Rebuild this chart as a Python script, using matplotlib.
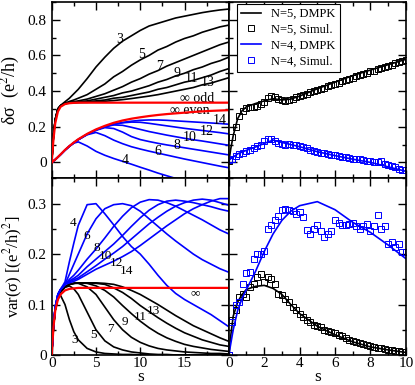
import matplotlib
matplotlib.use("Agg")
import matplotlib.pyplot as plt
import numpy as np
from matplotlib.ticker import MultipleLocator, FuncFormatter

plt.rcParams['font.family'] = ['Liberation Serif', 'DejaVu Serif']
plt.rcParams['mathtext.fontset'] = 'stix'

# ---- left panels: analytic / DMPK curves vs s ----
s_left = [0, 0.2, 0.4, 0.7, 1, 1.5, 2, 2.5, 3, 4, 5, 6, 7, 8, 9, 10,
          11, 12, 13, 14, 15, 16, 17, 18, 19, 20]

# delta sigma, odd N (black)
dsig_3 = [0, 0.15, 0.24, 0.3, 0.32, 0.34, 0.36, 0.385, 0.41, 0.47, 0.535, 0.59, 0.64,
          0.68, 0.71, 0.74, 0.765, 0.78, 0.795, 0.81, 0.82, 0.83, 0.84, 0.848, 0.855, 0.86]
dsig_5 = [0, 0.15, 0.24, 0.3, 0.318, 0.332, 0.342, 0.35, 0.36, 0.38, 0.41, 0.44, 0.48,
          0.51, 0.545, 0.575, 0.6, 0.63, 0.65, 0.675, 0.695, 0.71, 0.73, 0.745, 0.76, 0.77]
dsig_7 = [0, 0.15, 0.24, 0.3, 0.318, 0.33, 0.337, 0.341, 0.345, 0.355, 0.37, 0.385, 0.405,
          0.425, 0.45, 0.47, 0.495, 0.515, 0.54, 0.56, 0.58, 0.6, 0.62, 0.64, 0.66, 0.675]
dsig_9 = [0, 0.15, 0.24, 0.3, 0.318, 0.33, 0.335, 0.338, 0.34, 0.345, 0.355, 0.365, 0.375,
          0.39, 0.4, 0.415, 0.43, 0.45, 0.465, 0.485, 0.5, 0.52, 0.535, 0.555, 0.57, 0.59]
dsig_11 = [0, 0.15, 0.24, 0.3, 0.318, 0.33, 0.334, 0.336, 0.337, 0.34, 0.345, 0.35, 0.36,
           0.365, 0.375, 0.385, 0.395, 0.41, 0.42, 0.435, 0.45, 0.46, 0.475, 0.49, 0.51, 0.526]
dsig_13 = [0, 0.15, 0.24, 0.3, 0.318, 0.33, 0.334, 0.335, 0.336, 0.337, 0.34, 0.343, 0.347,
           0.352, 0.358, 0.365, 0.372, 0.38, 0.39, 0.4, 0.41, 0.42, 0.435, 0.445, 0.46, 0.475]

# delta sigma, even N (blue)
dsig_4 = [0, 0.007, 0.015, 0.029, 0.043, 0.068, 0.09, 0.108, 0.115, 0.092, 0.062, 0.04, 0.022,
          0.006, -0.01, -0.027, -0.043, -0.06, -0.075, -0.09, -0.105, -0.12, -0.135, -0.15, -0.165, -0.18]
dsig_6 = [0, 0.008, 0.016, 0.03, 0.044, 0.069, 0.09, 0.11, 0.127, 0.155, 0.168, 0.15, 0.125,
          0.105, 0.088, 0.075, 0.063, 0.052, 0.041, 0.03, 0.019, 0.009, -0.001, -0.011, -0.021, -0.03]
dsig_8 = [0, 0.008, 0.016, 0.03, 0.044, 0.069, 0.091, 0.11, 0.128, 0.157, 0.18, 0.195, 0.19,
          0.17, 0.145, 0.128, 0.117, 0.107, 0.098, 0.09, 0.082, 0.074, 0.066, 0.058, 0.05, 0.042]
dsig_10 = [0, 0.008, 0.016, 0.03, 0.044, 0.069, 0.091, 0.11, 0.128, 0.158, 0.182, 0.2, 0.21,
           0.208, 0.197, 0.185, 0.173, 0.163, 0.153, 0.144, 0.135, 0.127, 0.12, 0.112, 0.104, 0.096]
dsig_12 = [0, 0.008, 0.016, 0.03, 0.044, 0.069, 0.091, 0.11, 0.128, 0.158, 0.182, 0.2, 0.213,
           0.222, 0.226, 0.225, 0.219, 0.212, 0.205, 0.198, 0.191, 0.185, 0.179, 0.173, 0.167, 0.16]
dsig_14 = [0, 0.008, 0.016, 0.03, 0.044, 0.069, 0.091, 0.11, 0.128, 0.158, 0.182, 0.2, 0.214,
           0.224, 0.231, 0.236, 0.238, 0.238, 0.236, 0.233, 0.23, 0.227, 0.224, 0.221, 0.218, 0.214]

dsig_inf_odd = [0, 0.13, 0.22, 0.285, 0.312, 0.327, 0.332, 0.334, 0.335, 0.335, 0.335, 0.335, 0.335,
                0.335, 0.335, 0.335, 0.335, 0.335, 0.335, 0.335, 0.335, 0.335, 0.335, 0.335, 0.335, 0.335]
dsig_inf_even = [0, 0.008, 0.016, 0.03, 0.045, 0.07, 0.092, 0.112, 0.13, 0.16, 0.185, 0.205, 0.222,
                 0.235, 0.245, 0.253, 0.26, 0.266, 0.271, 0.275, 0.279, 0.283, 0.286, 0.289, 0.291, 0.293]

# variance, odd N (black)
var_3 = [0, 0.055, 0.09, 0.113, 0.118, 0.1, 0.07, 0.046, 0.03, 0.013, 0.006, 0.003, 0.002,
         0.001, 0.001, 0, 0, 0, 0, 0, 0, 0, 0, 0, 0, 0]
var_5 = [0, 0.055, 0.09, 0.115, 0.125, 0.134, 0.137, 0.131, 0.12, 0.085, 0.05, 0.028, 0.016,
         0.01, 0.006, 0.004, 0.002, 0.001, 0.001, 0, 0, 0, 0, 0, 0, 0]
var_7 = [0, 0.055, 0.09, 0.115, 0.125, 0.135, 0.14, 0.142, 0.142, 0.135, 0.12, 0.095, 0.07,
         0.05, 0.035, 0.025, 0.018, 0.013, 0.01, 0.008, 0.006, 0.005, 0.004, 0.003, 0.003, 0.002]
var_9 = [0, 0.055, 0.09, 0.115, 0.125, 0.135, 0.14, 0.142, 0.143, 0.142, 0.137, 0.128, 0.115,
         0.098, 0.082, 0.067, 0.054, 0.043, 0.034, 0.027, 0.021, 0.017, 0.014, 0.011, 0.009, 0.007]
var_11 = [0, 0.055, 0.09, 0.115, 0.125, 0.135, 0.14, 0.142, 0.143, 0.143, 0.142, 0.14, 0.133,
          0.124, 0.112, 0.098, 0.086, 0.074, 0.063, 0.053, 0.044, 0.037, 0.03, 0.025, 0.02, 0.017]
var_13 = [0, 0.055, 0.09, 0.115, 0.125, 0.135, 0.14, 0.142, 0.143, 0.143, 0.143, 0.142, 0.14,
          0.135, 0.128, 0.12, 0.11, 0.1, 0.089, 0.078, 0.068, 0.058, 0.05, 0.042, 0.034, 0.027]

# variance, even N (blue)
var_4 = [0, 0.06, 0.095, 0.12, 0.13, 0.145, 0.185, 0.222, 0.257, 0.298, 0.3, 0.28, 0.258,
         0.235, 0.215, 0.2, 0.18, 0.158, 0.138, 0.122, 0.11, 0.1, 0.09, 0.08, 0.068, 0.056]
var_6 = [0, 0.06, 0.095, 0.12, 0.13, 0.14, 0.16, 0.18, 0.2, 0.24, 0.27, 0.29, 0.298,
         0.3, 0.296, 0.285, 0.27, 0.255, 0.24, 0.226, 0.213, 0.2, 0.189, 0.18, 0.171, 0.164]
var_8 = [0, 0.06, 0.095, 0.12, 0.13, 0.14, 0.15, 0.158, 0.168, 0.19, 0.21, 0.232, 0.255,
         0.275, 0.292, 0.303, 0.308, 0.307, 0.302, 0.295, 0.286, 0.277, 0.268, 0.258, 0.248, 0.24]
var_10 = [0, 0.06, 0.095, 0.12, 0.13, 0.14, 0.147, 0.152, 0.158, 0.175, 0.19, 0.205, 0.22,
          0.237, 0.255, 0.272, 0.287, 0.298, 0.305, 0.307, 0.305, 0.302, 0.298, 0.294, 0.289, 0.285]
var_12 = [0, 0.06, 0.095, 0.12, 0.13, 0.14, 0.145, 0.149, 0.153, 0.165, 0.177, 0.19, 0.202,
          0.215, 0.23, 0.245, 0.26, 0.273, 0.285, 0.295, 0.302, 0.307, 0.309, 0.307, 0.302, 0.297]
var_14 = [0, 0.06, 0.095, 0.12, 0.13, 0.14, 0.143, 0.146, 0.15, 0.16, 0.17, 0.178, 0.186,
          0.195, 0.205, 0.217, 0.23, 0.243, 0.256, 0.268, 0.28, 0.29, 0.298, 0.305, 0.31, 0.31]
var_inf = [0, 0.055, 0.088, 0.11, 0.12, 0.128, 0.131, 0.132, 0.133, 0.133, 0.133, 0.133, 0.133,
           0.133, 0.133, 0.133, 0.133, 0.133, 0.133, 0.133, 0.133, 0.133, 0.133, 0.133, 0.133, 0.133]

# ---- right panels: N=5 / N=4 DMPK vs simulation ----
s_dmpk = [0, 0.1, 0.25, 0.5, 0.75, 1, 1.5, 2, 2.5, 3, 3.5, 4, 5, 6, 7, 8, 9, 10]
dsig5_dmpk = [0, 0.07, 0.15, 0.245, 0.29, 0.312, 0.33, 0.345, 0.357, 0.35, 0.355, 0.372,
              0.413, 0.45, 0.487, 0.518, 0.548, 0.578]
dsig4_dmpk = [0.01, 0.02, 0.03, 0.048, 0.058, 0.068, 0.086, 0.106, 0.125, 0.112, 0.1, 0.088,
              0.06, 0.038, 0.018, 0.0, -0.025, -0.05]
var5_dmpk = [0, 0.035, 0.077, 0.105, 0.12, 0.13, 0.136, 0.138, 0.132, 0.12, 0.1, 0.082,
             0.057, 0.04, 0.026, 0.016, 0.01, 0.005]
var4_dmpk = [0, 0.02, 0.05, 0.088, 0.112, 0.13, 0.165, 0.205, 0.24, 0.267, 0.285, 0.296,
             0.304, 0.288, 0.263, 0.243, 0.218, 0.191]

s_sim = np.round(np.arange(51) * 0.2, 1)
dsig5_sim = [0.01, 0.14, 0.2, 0.26, 0.29, 0.305, 0.31, 0.312, 0.318, 0.33, 0.34, 0.36, 0.37,
             0.365, 0.357, 0.352, 0.345, 0.35, 0.358, 0.365, 0.37, 0.38, 0.385, 0.393, 0.4,
             0.408, 0.413, 0.42, 0.428, 0.433, 0.44, 0.447, 0.455, 0.46, 0.468, 0.476, 0.483,
             0.49, 0.497, 0.503, 0.51, 0.515, 0.522, 0.528, 0.535, 0.54, 0.548, 0.555, 0.562,
             0.568, 0.575]
dsig4_sim = [0.015, 0.02, 0.035, 0.045, 0.05, 0.065, 0.07, 0.08, 0.09, 0.1, 0.12, 0.13, 0.132,
             0.12, 0.11, 0.105, 0.1, 0.105, 0.1, 0.098, 0.09, 0.085, 0.078, 0.07, 0.065, 0.06,
             0.055, 0.05, 0.048, 0.042, 0.04, 0.035, 0.032, 0.03, 0.022, 0.02, 0.018, 0.02,
             0.015, 0.01, 0.008, 0.0, 0.005, 0.01, -0.01, -0.015, -0.02, -0.028, -0.035, -0.04,
             -0.045]
var5_sim = [0.0, 0.07, 0.09, 0.115, 0.12, 0.115, 0.135, 0.14, 0.155, 0.16, 0.145, 0.155, 0.15,
            0.14, 0.12, 0.118, 0.11, 0.105, 0.095, 0.09, 0.082, 0.075, 0.07, 0.065, 0.06, 0.058,
            0.055, 0.05, 0.048, 0.045, 0.043, 0.04, 0.037, 0.034, 0.03, 0.028, 0.026, 0.024,
            0.022, 0.02, 0.018, 0.016, 0.014, 0.013, 0.012, 0.01, 0.009, 0.008, 0.007, 0.006,
            0.005]
var4_sim = [0.0, 0.065, 0.1, 0.105, 0.14, 0.163, 0.165, 0.19, 0.2, 0.2, 0.206, 0.25, 0.257,
            0.268, 0.275, 0.287, 0.29, 0.288, 0.285, 0.28, 0.283, 0.273, 0.247, 0.24, 0.25,
            0.257, 0.245, 0.234, 0.24, 0.246, 0.267, 0.262, 0.258, 0.258, 0.26, 0.262, 0.255,
            0.25, 0.255, 0.26, 0.245, 0.255, 0.278, 0.25, 0.255, 0.22, 0.224, 0.215, 0.22,
            0.205, 0.205]

# curve labels: (text, s, value)
labels_dsig = [("3", 7.7, 0.69), ("5", 10.15, 0.605), ("7", 12.2, 0.54), ("9", 14.1, 0.5),
               ("11", 15.8, 0.47), ("13", 17.65, 0.45), ("∞ odd", 16.4, 0.36),
               ("∞ even", 15.6, 0.29), ("14", 19.0, 0.235), ("12", 17.5, 0.175),
               ("10", 15.6, 0.14), ("8", 14.1, 0.095), ("6", 12.0, 0.06), ("4", 8.3, 0.01)]
labels_var = [("4", 2.4, 0.262), ("6", 3.9, 0.236), ("8", 5.1, 0.213), ("10", 6.1, 0.197),
              ("12", 7.3, 0.183), ("14", 8.5, 0.167), ("∞", 16.2, 0.122),
              ("3", 2.6, 0.03), ("5", 4.7, 0.04), ("7", 6.6, 0.052), ("9", 8.3, 0.065),
              ("11", 10.0, 0.075), ("13", 11.5, 0.088)]

blue = '#0000ff'
red = '#ff0000'

fig, axes = plt.subplots(2, 2, figsize=(4.15, 3.85), dpi=100)
fig.subplots_adjust(left=0.1246, right=0.978, bottom=0.078, top=0.995, wspace=0, hspace=0)
ax_tl, ax_tr = axes[0]
ax_bl, ax_br = axes[1]

for vals in [dsig_3, dsig_5, dsig_7, dsig_9, dsig_11, dsig_13]:
    ax_tl.plot(s_left, vals, color='k', lw=1.2)
for vals in [dsig_4, dsig_6, dsig_8, dsig_10, dsig_12, dsig_14]:
    ax_tl.plot(s_left, vals, color=blue, lw=1.2)
ax_tl.plot(s_left, dsig_inf_odd, color=red, lw=1.6, zorder=5)
ax_tl.plot(s_left, dsig_inf_even, color=red, lw=1.6, zorder=5)

for vals in [var_3, var_5, var_7, var_9, var_11, var_13]:
    ax_bl.plot(s_left, vals, color='k', lw=1.2)
for vals in [var_4, var_6, var_8, var_10, var_12, var_14]:
    ax_bl.plot(s_left, vals, color=blue, lw=1.2)
ax_bl.plot(s_left, var_inf, color=red, lw=1.6, zorder=5)

for txt, x, y in labels_dsig:
    ax_tl.text(x, y, txt, fontsize=10, ha='center', va='center')
for txt, x, y in labels_var:
    ax_bl.text(x, y, txt, fontsize=9.5, ha='center', va='center')

mk = dict(marker='s', mfc='none', ms=4, mew=0.7, ls='none')
ax_tr.plot(s_dmpk, dsig5_dmpk, color='k', lw=1.2, label='N=5, DMPK')
ax_tr.plot(s_sim, dsig5_sim, color='k', label='N=5, Simul.', **mk)
ax_tr.plot(s_dmpk, dsig4_dmpk, color=blue, lw=1.2, label='N=4, DMPK')
ax_tr.plot(s_sim, dsig4_sim, color=blue, label='N=4, Simul.', **mk)

ax_br.plot(s_dmpk, var5_dmpk, color='k', lw=1.2)
ax_br.plot(s_sim, var5_sim, color='k', **mk)
ax_br.plot(s_dmpk, var4_dmpk, color=blue, lw=1.2)
ax_br.plot(s_sim, var4_sim, color=blue, **mk)

leg = ax_tr.legend(loc='upper left', bbox_to_anchor=(0.045, 0.99), fontsize=9,
                   frameon=True, fancybox=False, edgecolor='k', framealpha=1,
                   handlelength=1.6, numpoints=1, borderaxespad=0, labelspacing=0.3,
                   borderpad=0.35, handletextpad=0.8)
leg.get_frame().set_linewidth(0.8)

fmt = FuncFormatter(lambda v, p: '%g' % round(v, 3))

for ax in [ax_tl, ax_bl]:
    ax.set_xlim(0, 20)
    ax.xaxis.set_major_locator(MultipleLocator(5))
    ax.xaxis.set_minor_locator(MultipleLocator(2.5))
for ax in [ax_tr, ax_br]:
    ax.set_xlim(0, 10)
    ax.xaxis.set_major_locator(MultipleLocator(2))
    ax.xaxis.set_minor_locator(MultipleLocator(1))
for ax in [ax_tl, ax_tr]:
    ax.set_ylim(-0.09, 0.9)
    ax.yaxis.set_major_locator(MultipleLocator(0.2))
    ax.yaxis.set_minor_locator(MultipleLocator(0.1))
    ax.tick_params(labelbottom=False)
for ax in [ax_bl, ax_br]:
    ax.set_ylim(0, 0.35)
    ax.yaxis.set_major_locator(MultipleLocator(0.1))
    ax.yaxis.set_minor_locator(MultipleLocator(0.05))
    ax.set_xlabel('s', fontsize=12.5, labelpad=-1)

for ax in axes.flat:
    ax.tick_params(which='both', direction='in', top=True, right=True, labelsize=11)
    ax.tick_params(which='major', length=6, width=1)
    ax.tick_params(which='minor', length=3, width=1)
    ax.tick_params(axis='x', pad=1.5)
    ax.yaxis.set_major_formatter(fmt)
    ax.xaxis.set_major_formatter(fmt)
    for sp in ax.spines.values():
        sp.set_linewidth(1.2)

ax_tr.tick_params(labelleft=False)
ax_br.tick_params(labelleft=False)
ax_bl.xaxis.set_major_formatter(FuncFormatter(lambda v, p: '' if v >= 20 else '%g' % v))

ax_tl.set_ylabel(r'δσ  (e$^{2}$/h)', fontsize=13, labelpad=4)
ax_bl.set_ylabel(r'var(σ) [(e$^{2}$/h)$^{2}$]', fontsize=12, labelpad=2)

fig.savefig('out.png', dpi=100)
